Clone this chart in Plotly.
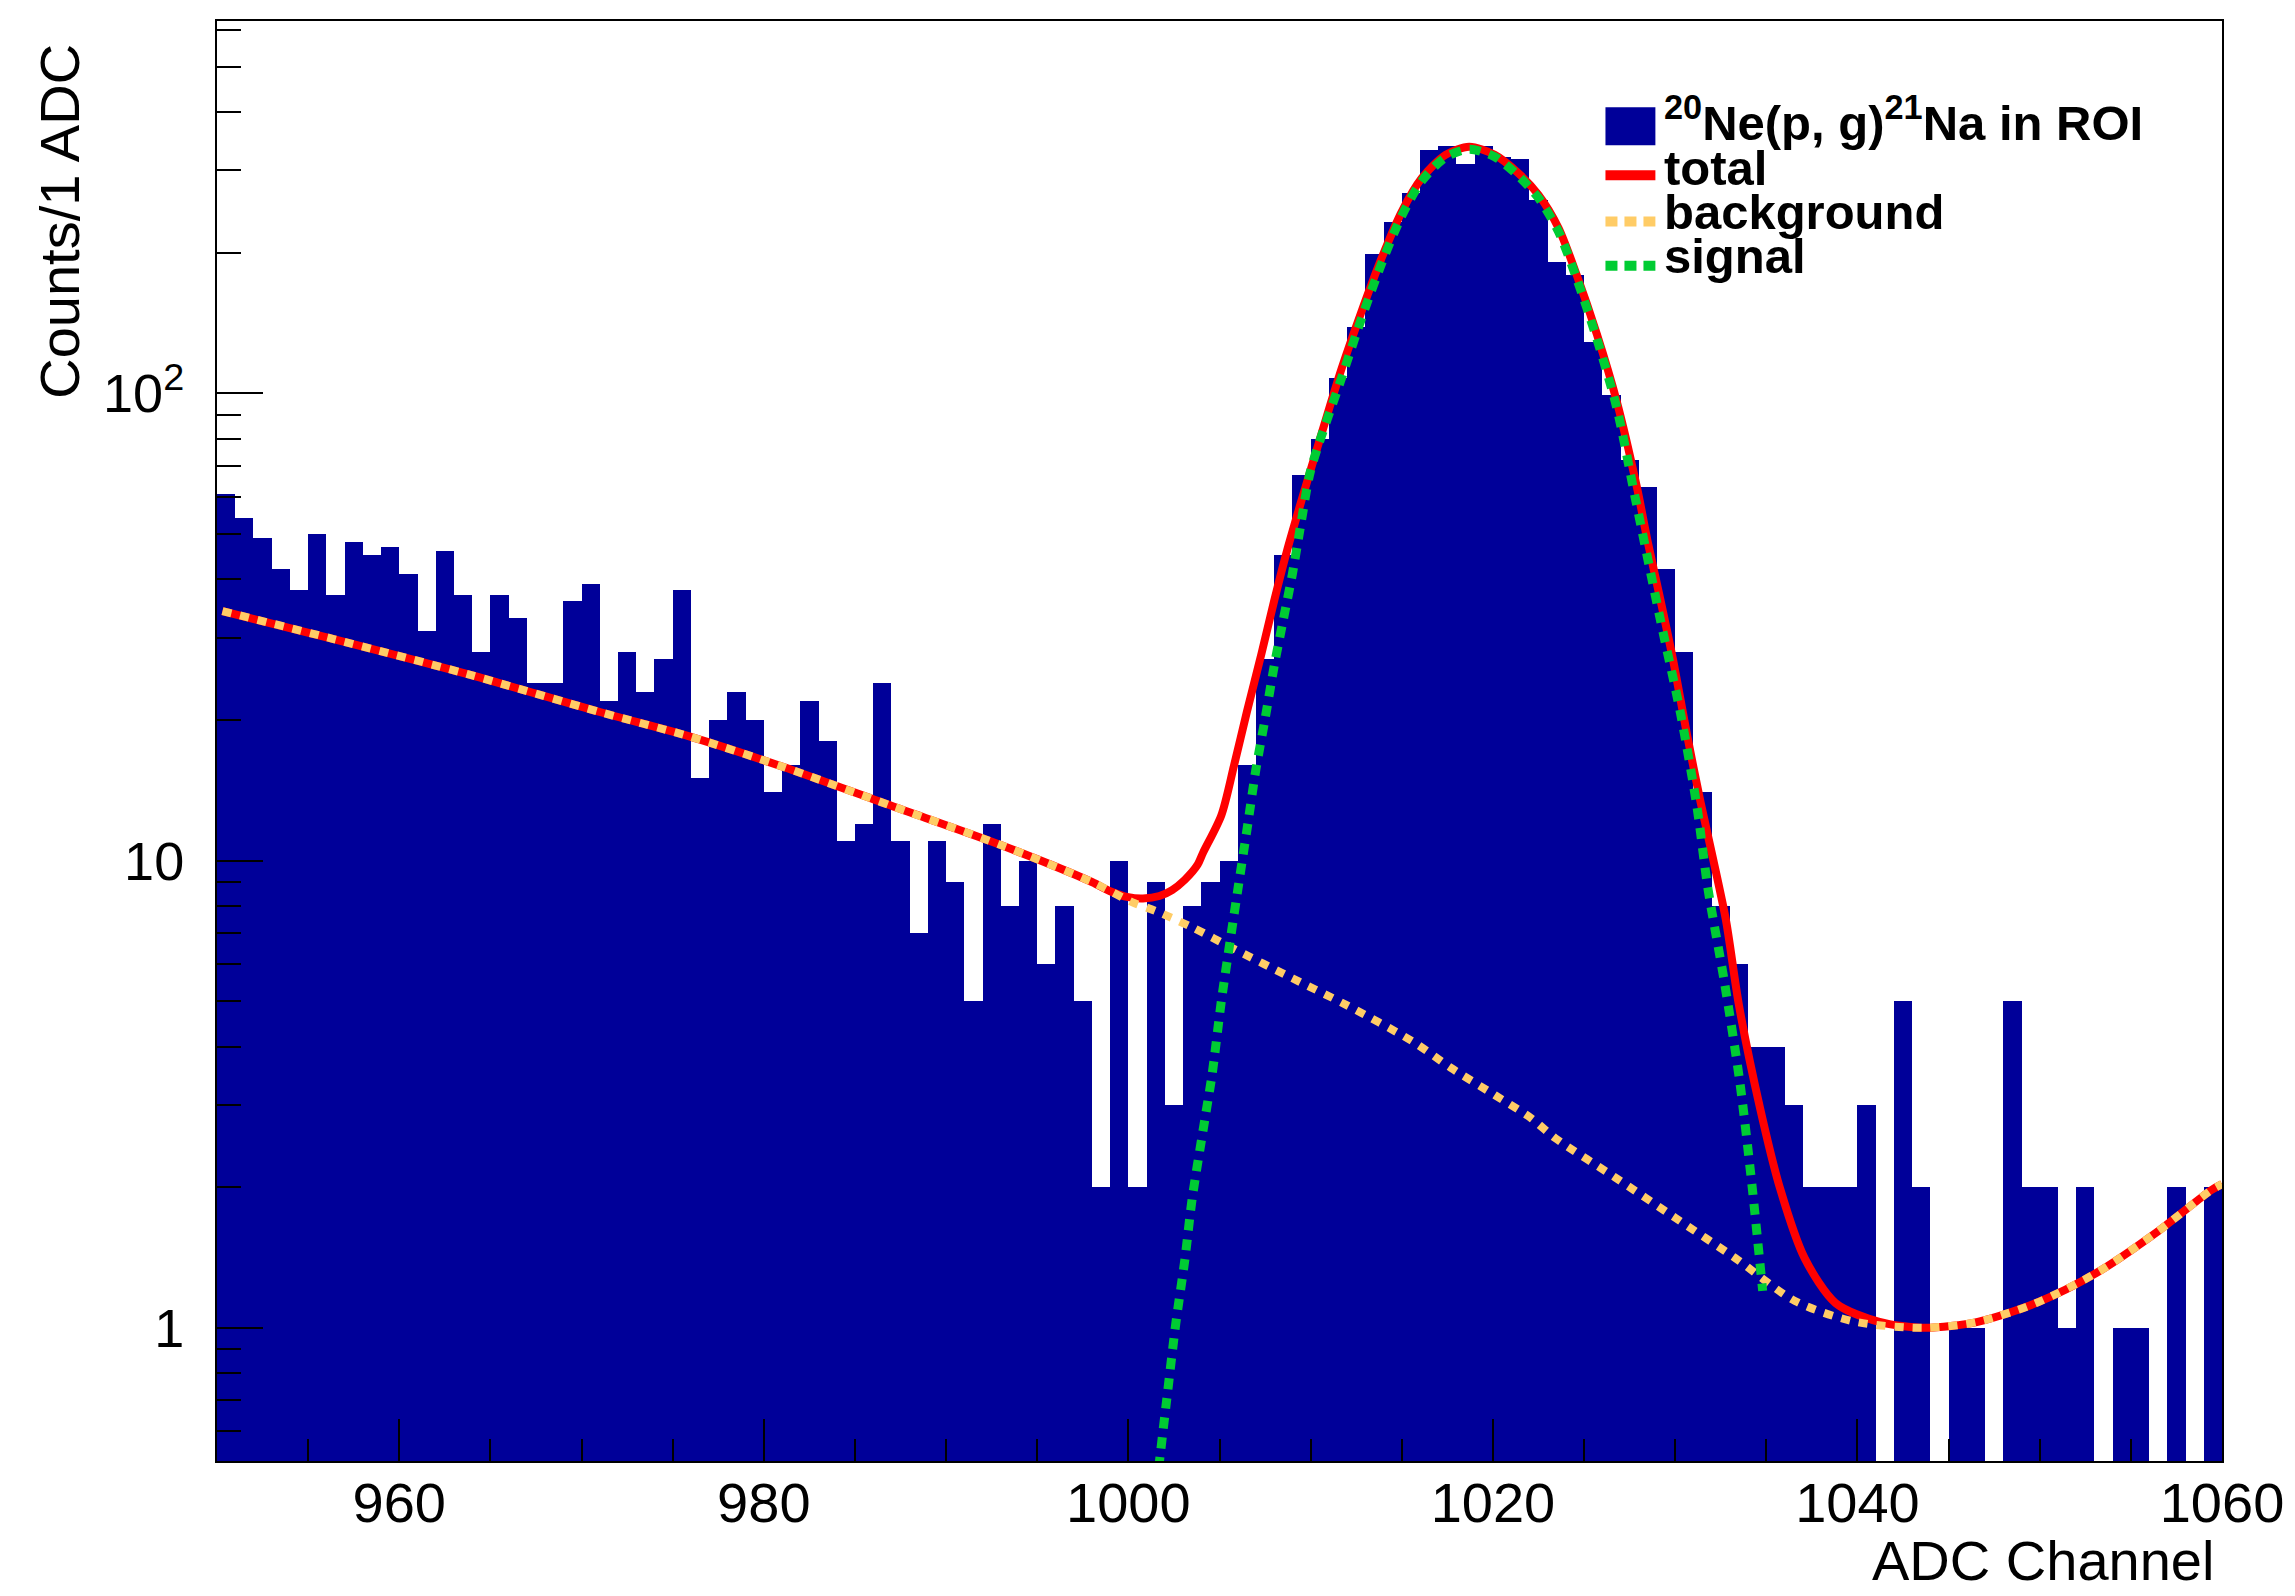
import plotly.graph_objects as go

# ---------------- data ----------------
channels = list(range(950, 1060))          # 1-ADC bins, lower edges
counts = [61, 54, 49, 42, 38, 50, 37, 48, 45, 47,
          41, 31, 46, 37, 28, 37, 33, 24, 24, 36,
          39, 22, 28, 23, 27, 38, 15, 20, 23, 20,
          14, 16, 22, 18, 11, 12, 24, 11, 7, 11,
          9, 5, 12, 8, 10, 6, 8, 5, 2, 10,
          2, 9, 3, 8, 9, 10, 16, 27, 45, 67,
          80, 108, 139, 199, 233, 268, 332, 338, 310, 338,
          320, 318, 259, 191, 179, 129, 99, 72, 63, 42,
          28, 14, 8, 6, 4, 4, 3, 2, 2, 2,
          3, 0, 5, 2, 0, 1, 1, 0, 5, 2,
          2, 1, 2, 0, 1, 1, 0, 2, 0, 2]

bg_x = [950.3, 956.4, 963.7, 971.0, 976.0, 981.0, 987.0, 993.0, 998.0, 1000.2,
        1001.5, 1003.5, 1005.7, 1009.0, 1012.0, 1015.6, 1017.7, 1020.1, 1022.1,
        1023.4, 1026.7, 1030.0, 1033.3, 1036.6, 1039.9, 1043.7, 1046.6, 1049.8,
        1053.1, 1056.4, 1059.4, 1060.0]
bg_y = [34.2, 29.8, 25.1, 20.8, 18.4, 15.9, 13.1, 10.8, 9.0, 8.15,
        7.8, 7.2, 6.5, 5.6, 4.9, 4.1, 3.6, 3.15, 2.81,
        2.55, 2.1, 1.72, 1.41, 1.14, 1.03, 1.0, 1.03, 1.13,
        1.31, 1.6, 1.97, 2.03]

tot_x = [950.3, 956.4, 963.7, 971.0, 976.0, 981.0, 987.0, 993.0, 998.0, 999.0,
         1000.0, 1000.8, 1001.7, 1002.4, 1003.1, 1003.8, 1004.1, 1005.1, 1005.8,
         1006.5, 1007.3, 1008.0, 1008.7, 1009.5, 1010.6, 1011.7, 1012.8, 1013.9,
         1015.0, 1016.1, 1017.4, 1018.7, 1020.1, 1021.4, 1022.5, 1023.6, 1024.6,
         1025.7, 1026.8, 1027.9, 1028.5, 1029.2, 1029.9, 1030.65, 1031.4, 1032.1,
         1032.8, 1033.5, 1034.65, 1035.75, 1037.1, 1038.8, 1041.2, 1043.7, 1046.6,
         1049.8, 1053.1, 1056.4, 1059.4, 1060.0]
tot_y = [34.2, 29.8, 25.1, 20.8, 18.4, 15.9, 13.1, 10.8, 9.0, 8.6,
         8.35, 8.3, 8.4, 8.65, 9.1, 9.8, 10.4, 12.5, 16.0,
         20.8, 27.7, 36.0, 46.0, 59.0, 82.0, 113, 150, 195,
         245, 289, 324, 337, 324, 296, 266, 226, 179,
         134, 96, 63, 48, 36, 26.7, 18.6, 13.3, 10.0,
         7.4, 4.9, 2.96, 1.99, 1.41, 1.13, 1.03, 1.0, 1.03,
         1.13, 1.31, 1.6, 1.97, 2.03]

sig_x = [1001.66, 1002.1, 1002.6, 1003.1, 1003.5, 1004.2, 1004.6, 1005.1, 1005.6,
         1006.05, 1006.5, 1007.0, 1007.5, 1008.0, 1008.5, 1009.0, 1009.5, 1010.0,
         1011.7, 1012.8, 1013.9, 1015.0, 1016.1, 1017.4, 1018.7, 1020.1, 1021.4,
         1022.5, 1023.6, 1024.6, 1025.7, 1026.8, 1027.8, 1029.2, 1030.3, 1031.2,
         1031.8, 1032.7, 1033.55, 1034.2, 1034.8]
sig_y = [0.5, 0.70, 1.02, 1.40, 1.89, 2.8, 3.5, 5.0, 6.8,
         8.9, 11.6, 15.7, 20.1, 26.1, 32.8, 41.1, 53.5, 68.4,
         108, 145, 190, 240, 285, 320, 333, 321, 292,
         262, 222, 176, 131, 93, 60, 32.6, 20.6, 13.0,
         8.7, 5.5, 3.35, 2.04, 1.2]

x_tickvals = [960, 980, 1000, 1020, 1040, 1060]
x_minor = [955, 965, 970, 975, 985, 990, 995, 1005, 1010, 1015,
           1025, 1030, 1035, 1045, 1050, 1055]
y_tickvals = [1, 10, 100]
y_ticktext = ["1", "10", "10<sup>2</sup>"]
y_minor = [0.6, 0.7, 0.8, 0.9, 2, 3, 4, 5, 6, 7, 8, 9,
           20, 30, 40, 50, 60, 70, 80, 90, 200, 300, 400, 500, 600]

legend_labels = ["<b><sup>20</sup>Ne(p, g)<sup>21</sup>Na in ROI</b>",
                 "<b>total</b>", "<b>background</b>", "<b>signal</b>"]

# ---------------- styling ----------------
NAVY = "#000099"
RED = "#ff0000"
ORANGE = "#ffcc66"
GREEN = "#00cc33"
FONT = "Liberation Sans, Arial, Helvetica, sans-serif"

fig = go.Figure()

fig.add_trace(go.Bar(
    x=[c + 0.5 for c in channels],
    y=[v if v > 0 else None for v in counts],
    width=1.0,
    marker=dict(color=NAVY, line=dict(width=0)),
    showlegend=False,
))

fig.add_trace(go.Scatter(x=tot_x, y=tot_y, mode="lines",
                         line=dict(color=RED, width=8, shape="spline", smoothing=0.8),
                         showlegend=False))
fig.add_trace(go.Scatter(x=bg_x, y=bg_y, mode="lines",
                         line=dict(color=ORANGE, width=8, dash="9px,9px",
                                   shape="spline", smoothing=0.8),
                         showlegend=False))
fig.add_trace(go.Scatter(x=sig_x, y=sig_y, mode="lines",
                         line=dict(color=GREEN, width=9, dash="11px,9px",
                                   shape="spline", smoothing=0.8),
                         showlegend=False))

# the page body adds an 8px offset; size the figure so the plot frame lands
# where the reference has it
fig.update_layout(
    width=2287, height=1588,
    margin=dict(l=209, r=64, t=11, b=135, pad=0),
    plot_bgcolor="white", paper_bgcolor="white",
    bargap=0,
    font=dict(family=FONT, color="black"),
)

fig.update_xaxes(
    range=[950, 1060],
    tickmode="array", tickvals=x_tickvals,
    ticks="inside", ticklen=42, tickwidth=2, tickcolor="black",
    minor=dict(tickmode="array", tickvals=x_minor, ticks="inside",
               ticklen=22, tickwidth=2, tickcolor="black", showgrid=False),
    showline=True, linecolor="black", linewidth=2, mirror=True,
    showgrid=False, zeroline=False,
    tickfont=dict(size=56, family=FONT),
    ticklabelstandoff=-8,
)
fig.update_yaxes(
    type="log", range=[-0.285, 2.797],
    tickmode="array", tickvals=y_tickvals, ticktext=y_ticktext,
    ticks="inside", ticklen=46, tickwidth=2, tickcolor="black",
    minor=dict(tickmode="array", tickvals=y_minor, ticks="inside",
               ticklen=24, tickwidth=2, tickcolor="black", showgrid=False),
    showline=True, linecolor="black", linewidth=2, mirror=True,
    showgrid=False, zeroline=False,
    tickfont=dict(size=54, family=FONT),
    ticklabelstandoff=20,
)

# axis titles (ROOT style: right / top aligned)
fig.add_annotation(text="Counts/1 ADC", textangle=-90, xref="paper", yref="paper",
                   x=-0.0785, y=0.861, xanchor="center", yanchor="middle",
                   showarrow=False, font=dict(size=56, family=FONT))
fig.add_annotation(text="ADC Channel", xref="paper", yref="paper",
                   x=0.997, y=-0.0922, xanchor="right", yanchor="bottom",
                   showarrow=False, font=dict(size=56, family=FONT))

# legend (ROOT TLegend look)
leg_x0, leg_x1, txt_x = 0.6925, 0.7174, 0.7208
row_y = [0.9318, 0.898, 0.8675, 0.8366]
fig.add_shape(type="rect", xref="paper", yref="paper",
              x0=leg_x0, x1=leg_x1, y0=0.9137, y1=0.9401,
              fillcolor=NAVY, line=dict(width=0))
fig.add_shape(type="line", xref="paper", yref="paper",
              x0=leg_x0, x1=leg_x1, y0=0.8929, y1=0.8929,
              line=dict(color=RED, width=10))
fig.add_shape(type="line", xref="paper", yref="paper",
              x0=leg_x0, x1=leg_x1, y0=0.8607, y1=0.8607,
              line=dict(color=ORANGE, width=10, dash="12px,7px"))
fig.add_shape(type="line", xref="paper", yref="paper",
              x0=leg_x0, x1=leg_x1, y0=0.8301, y1=0.8301,
              line=dict(color=GREEN, width=10, dash="12px,7px"))
for lab, yy in zip(legend_labels, row_y):
    fig.add_annotation(text=lab, xref="paper", yref="paper", x=txt_x, y=yy,
                       xanchor="left", yanchor="middle", showarrow=False,
                       font=dict(size=49, family=FONT))

fig.write_html("out.html")
